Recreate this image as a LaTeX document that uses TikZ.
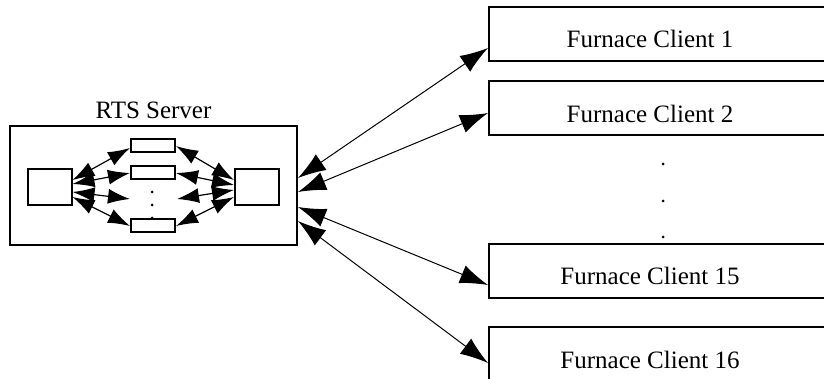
\documentclass[tikz,border=0pt]{standalone}
\usepackage{fontspec}
\setmainfont{Liberation Serif}
\usetikzlibrary{arrows.meta,positioning}

\begin{document}
\begin{tikzpicture}[x=0.5pt,y=-0.5pt,font=\fontsize{12.5}{15}\selectfont]
\tikzstyle{srvbox}=[draw,line width=1pt,inner sep=0pt,minimum width=143.5pt,minimum height=59.5pt];
\tikzstyle{inbox}=[draw,line width=1pt,inner sep=0pt,minimum width=22pt,minimum height=18pt];
\tikzstyle{slot}=[draw,line width=1pt,inner sep=0pt,minimum width=22pt,minimum height=6.5pt];
\tikzstyle{cli}=[draw,line width=1pt,inner sep=0pt,minimum width=174pt,minimum height=27pt,text height=14pt,text depth=0pt,execute at end node={\hspace*{13pt}}];
\tikzstyle{link}=[<->,>={Latex[length=14pt,width=9.5pt]},line width=0.5pt];
\tikzstyle{ilink}=[<->,>={Latex[length=11pt,width=7.5pt]},line width=0.6pt];

\path[use as bounding box,clip] (0,0) rectangle (824,379);

% server side
\node [srvbox] (srv) at (153.5,185.5) {};
\node [inner sep=0pt,above=3pt of srv] (srvlbl) {RTS Server};
\node [inbox] (ia) at (49.5,187) {};
\node [inbox] (ib) at (257,187) {};
\node [slot] (r1) at (153,146) {};
\node [slot] (r2) at (153,173) {};
\node [slot] (r4) at (153,226) {};
\coordinate (midL) at (130,199);
\coordinate (midR) at (177,199);
\foreach \y in {192,205,218} \fill (152,\y) circle (0.75pt);

\draw [ilink] ([yshift=3.5pt]ia.east) -- ([yshift=-1pt]r1.west);
\draw [ilink] ([yshift=1.5pt]ia.east) -- (r2.west);
\draw [ilink] ([yshift=-2.5pt]ia.east) -- (midL);
\draw [ilink] ([yshift=-5pt]ia.east) -- (r4.west);
\draw [ilink] (r1.east) -- ([yshift=3.5pt]ib.west);
\draw [ilink] (r2.east) -- ([yshift=1pt]ib.west);
\draw [ilink] (midR) -- ([yshift=-1.5pt]ib.west);
\draw [ilink] (r4.east) -- ([yshift=-5pt]ib.west);

% clients
\node [cli] (c1) at (663,34) {Furnace Client 1};
\node [cli] (c2) at (663,108.5) {Furnace Client 2};
\node [cli] (c15) at (663,271) {Furnace Client 15};
\node [cli] (c16) at (663,354) {Furnace Client 16};
\foreach \y in {164,201,237} \fill (663,\y) circle (0.75pt);

\draw [link] ([yshift=3.75pt]srv.east) -- ([yshift=-7pt]c1.west);
\draw [link] ([yshift=-3.25pt]srv.east) -- ([yshift=-2.25pt]c2.west);
\draw [link] ([yshift=-10.75pt]srv.east) -- ([yshift=-7pt]c15.west);
\draw [link] ([yshift=-17.75pt]srv.east) -- ([yshift=-4.5pt]c16.west);
\end{tikzpicture}
\end{document}
